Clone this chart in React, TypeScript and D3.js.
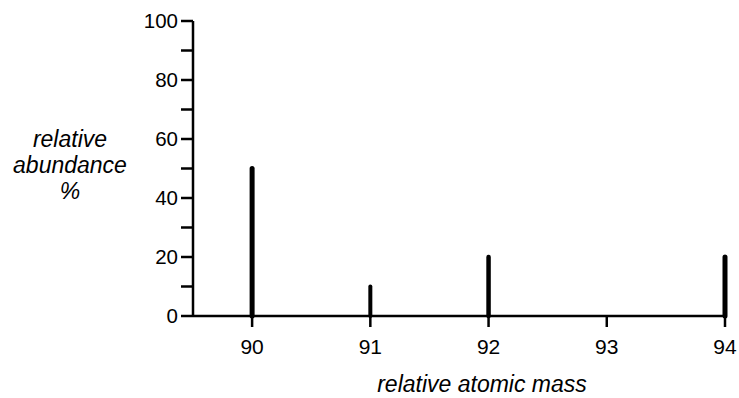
import React, { useEffect, useRef } from 'react'
import * as d3 from 'd3'

// isotope peaks
const masses = [90, 91, 92, 94]
const abundance = [50, 10, 20, 20]
const widths = [5, 4, 4.5, 5]

const xTicks = [90, 91, 92, 93, 94]
const yMajor = [0, 20, 40, 60, 80, 100]
const yMinor = [10, 30, 50, 70, 90]

const yTitle = ['relative', 'abundance', '%']
const xTitle = 'relative atomic mass'

export default function App() {
  const ref = useRef<SVGSVGElement>(null)

  useEffect(() => {
    const svg = d3.select(ref.current)
    svg.selectAll('*').remove()

    const x = d3.scaleLinear().domain([89.5, 94]).range([193, 725])
    const y = d3.scaleLinear().domain([0, 100]).range([316, 21])
    const font = 'Liberation Sans, Arial, sans-serif'

    // axes lines
    svg.append('line')
      .attr('x1', x(89.5)).attr('x2', x(94) + 2)
      .attr('y1', y(0)).attr('y2', y(0))
      .attr('stroke', 'black').attr('stroke-width', 2.5)
    svg.append('line')
      .attr('x1', x(89.5)).attr('x2', x(89.5))
      .attr('y1', y(0)).attr('y2', y(100))
      .attr('stroke', 'black').attr('stroke-width', 2.5)

    // y ticks
    svg.append('g').selectAll('line')
      .data(yMajor.concat(yMinor)).enter().append('line')
      .attr('x1', x(89.5) - 12).attr('x2', x(89.5))
      .attr('y1', d => y(d)).attr('y2', d => y(d))
      .attr('stroke', 'black').attr('stroke-width', 2.5)

    svg.append('g').selectAll('text')
      .data(yMajor).enter().append('text')
      .attr('x', x(89.5) - 15).attr('y', d => y(d))
      .attr('dy', '0.36em')
      .attr('text-anchor', 'end')
      .attr('font-family', font).attr('font-size', 20.5)
      .text(d => d)

    // x ticks
    svg.append('g').selectAll('line')
      .data(xTicks).enter().append('line')
      .attr('x1', d => x(d)).attr('x2', d => x(d))
      .attr('y1', y(0)).attr('y2', y(0) + 11)
      .attr('stroke', 'black').attr('stroke-width', 2.5)

    svg.append('g').selectAll('text')
      .data(xTicks).enter().append('text')
      .attr('x', d => x(d)).attr('y', y(0) + 38)
      .attr('text-anchor', 'middle')
      .attr('font-family', font).attr('font-size', 21)
      .text(d => d)

    // peaks
    svg.append('g').selectAll('line')
      .data(masses).enter().append('line')
      .attr('x1', d => x(d)).attr('x2', d => x(d))
      .attr('y1', y(0)).attr('y2', (d, i) => y(abundance[i]))
      .attr('stroke', 'black')
      .attr('stroke-width', (d, i) => widths[i])
      .attr('stroke-linecap', 'round')

    // titles
    svg.append('g').selectAll('text')
      .data(yTitle).enter().append('text')
      .attr('x', 70).attr('y', (d, i) => 147 + i * 26)
      .attr('text-anchor', 'middle')
      .attr('font-family', font).attr('font-size', 23)
      .attr('font-style', 'italic')
      .text(d => d)

    svg.append('text')
      .attr('x', 482).attr('y', 392)
      .attr('text-anchor', 'middle')
      .attr('font-family', font).attr('font-size', 23)
      .attr('font-style', 'italic')
      .text(xTitle)
  }, [])

  return (
    <svg ref={ref} width={739} height={398}
      style={{ position: 'absolute', left: 0, top: 0, background: 'white' }} />
  )
}
